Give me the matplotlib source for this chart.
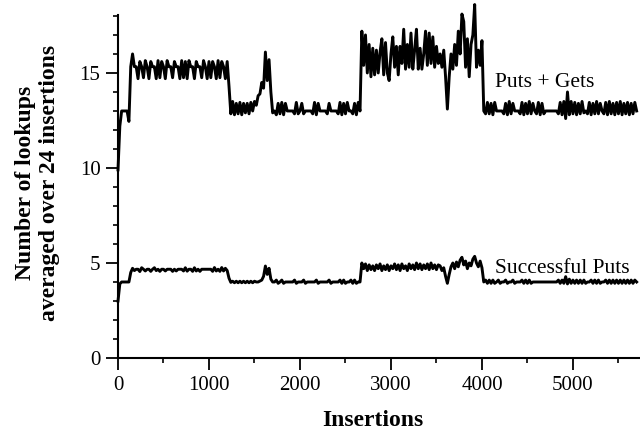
import numpy as np
import matplotlib
matplotlib.use('Agg')
import matplotlib.pyplot as plt
from matplotlib.ticker import MultipleLocator

plt.rcParams['font.family'] = ['Liberation Serif', 'DejaVu Serif']

STEP = 20  # insertions between samples

# ---- "Puts + Gets" series, segments starting at these insertion counts ----
pg_starts = [0, 1220, 2660, 4020]
pg_a = [9.9, 12.2, 13.0, 13.0, 13.0, 13.0, 12.45, 15.33, 16.0, 15.33,
        15.33, 14.7, 15.6, 15.33, 14.75, 15.65, 15.33, 14.7, 15.6, 15.33,
        15.33, 14.7, 15.65, 14.75, 15.6, 15.33, 14.7, 15.65, 15.33, 15.33,
        14.75, 15.6, 15.33, 15.33, 14.7, 15.65, 14.75, 15.6, 14.7, 15.65,
        15.33, 15.33, 14.7, 15.6, 15.33, 15.33, 14.75, 15.65, 15.33, 14.7,
        15.6, 14.75, 15.6, 15.33, 14.7, 15.65, 14.75, 15.6, 15.33, 14.7,
        15.6]
pg_b = [14.3, 12.85, 13.5, 12.8, 13.4, 12.85, 13.45, 12.8, 13.4, 12.9,
        13.4, 12.85, 13.45, 13.0, 13.5, 13.3, 13.8, 13.9, 14.5, 14.2,
        16.1, 14.6, 15.7, 14.0, 12.9, 13.0, 12.8, 13.4, 12.85, 13.45,
        12.8, 13.4, 13.0, 13.0, 13.0, 13.0, 12.85, 13.45, 12.85, 13.0,
        13.4, 12.85, 13.0, 13.0, 13.0, 13.0, 12.85, 13.45, 12.8, 13.4,
        13.0, 13.0, 13.0, 13.0, 12.85, 13.4, 13.0, 13.0, 13.0, 13.0,
        12.85, 13.45, 12.8, 13.4, 12.85, 13.45, 13.0, 13.0, 12.85, 13.4,
        12.8, 13.45]
pg_c = [13.0, 17.2, 15.4, 17.0, 15.0, 16.5, 14.8, 16.3, 14.9, 16.2,
        15.0, 16.1, 16.8, 14.9, 16.6, 15.0, 14.6, 16.0, 16.9, 15.3,
        16.4, 14.9, 16.4, 15.5, 17.3, 15.2, 16.5, 15.3, 17.1, 15.2,
        16.2, 17.3, 15.2, 16.3, 15.2, 16.0, 17.2, 15.4, 17.1, 15.5,
        16.9, 15.3, 16.4, 15.5, 16.0, 15.3, 16.2, 14.8, 13.1, 14.8,
        16.0, 15.2, 16.5, 15.4, 17.2, 16.0, 18.1, 17.7, 15.3, 16.8,
        14.8, 16.5, 17.0, 18.6, 15.3, 16.2, 15.4, 16.7]
pg_d = [13.0, 12.85, 13.45, 12.85, 13.4, 12.8, 13.45, 13.0, 13.0, 13.0,
        13.0, 12.85, 13.4, 12.8, 13.5, 12.85, 13.4, 13.0, 13.0, 13.0,
        12.85, 13.45, 12.8, 13.4, 12.85, 13.5, 12.85, 13.4, 13.0, 12.85,
        13.45, 12.8, 13.4, 12.85, 13.0, 13.0, 13.0, 13.0, 13.0, 13.0,
        13.0, 12.85, 13.45, 12.8, 13.5, 12.6, 14.0, 12.8, 13.5, 12.85,
        13.45, 12.8, 13.4, 12.85, 13.5, 12.9, 13.0, 12.85, 13.45, 12.8,
        13.4, 12.85, 13.5, 12.85, 13.4, 13.0, 12.85, 13.45, 12.8, 13.5,
        12.85, 13.4, 12.8, 13.45, 12.85, 13.5, 12.8, 13.4, 12.85, 13.45,
        12.8, 13.4, 12.85, 13.45, 13.0]

# ---- "Successful Puts" series ----
sp_starts = [0, 1220, 2660, 4020]
sp_a = [3.0, 3.9, 4.0, 4.0, 4.0, 4.0, 4.0, 4.5, 4.72, 4.6,
        4.67, 4.67, 4.55, 4.75, 4.67, 4.58, 4.67, 4.67, 4.56, 4.67,
        4.75, 4.6, 4.67, 4.56, 4.67, 4.67, 4.58, 4.67, 4.67, 4.67,
        4.56, 4.67, 4.58, 4.67, 4.67, 4.67, 4.58, 4.75, 4.57, 4.67,
        4.67, 4.56, 4.75, 4.58, 4.67, 4.56, 4.67, 4.67, 4.67, 4.67,
        4.67, 4.67, 4.56, 4.76, 4.58, 4.67, 4.56, 4.76, 4.58, 4.72,
        4.6]
sp_b = [4.2, 3.98, 4.04, 3.96, 4.04, 3.96, 4.04, 3.96, 4.04, 3.96,
        4.04, 3.96, 4.04, 3.96, 4.04, 4.0, 4.0, 4.05, 4.1, 4.3,
        4.84, 4.4, 4.72, 4.15, 4.0, 4.0, 4.1, 3.93, 4.0, 4.1,
        3.93, 4.0, 4.0, 4.0, 4.0, 4.0, 4.1, 3.93, 4.0, 4.0,
        4.0, 4.1, 3.93, 4.0, 4.0, 4.0, 4.0, 4.0, 4.1, 3.93,
        4.0, 4.0, 4.0, 4.0, 4.0, 4.1, 3.93, 4.0, 4.0, 4.0,
        4.0, 4.1, 3.93, 4.1, 3.93, 4.0, 4.0, 4.1, 3.93, 4.1,
        3.93, 4.0]
sp_c = [4.0, 5.0, 4.7, 4.95, 4.6, 4.9, 4.65, 4.85, 4.6, 4.9,
        4.7, 4.95, 4.6, 4.85, 4.65, 4.9, 4.6, 4.85, 4.7, 4.95,
        4.65, 4.9, 4.6, 4.95, 4.7, 4.85, 4.6, 4.95, 4.7, 4.9,
        4.65, 5.0, 4.7, 4.95, 4.65, 4.9, 4.7, 4.95, 4.65, 5.0,
        4.7, 4.9, 4.65, 4.9, 4.85, 4.6, 4.75, 4.3, 3.93, 4.4,
        4.8, 5.0, 4.7, 5.05, 4.8, 5.15, 5.3, 4.9, 5.1, 4.7,
        5.0, 4.85, 5.2, 5.35, 5.0, 4.8, 5.1, 4.75]
sp_d = [4.0, 4.1, 3.93, 4.1, 3.93, 4.1, 3.93, 4.0, 4.1, 3.93,
        4.0, 4.0, 4.1, 3.93, 4.0, 4.0, 4.1, 3.93, 4.0, 4.0,
        4.0, 4.1, 3.93, 4.1, 3.93, 4.1, 3.93, 4.0, 4.0, 4.0,
        4.0, 4.0, 4.0, 4.0, 4.0, 4.0, 4.0, 4.0, 4.0, 4.0,
        4.0, 4.1, 3.93, 4.1, 3.93, 4.28, 3.9, 4.15, 3.93, 4.1,
        3.93, 4.1, 3.93, 4.1, 3.93, 4.1, 3.93, 4.0, 4.0, 4.1,
        3.93, 4.1, 3.93, 4.1, 3.93, 4.0, 4.0, 4.1, 3.93, 4.1,
        3.93, 4.1, 3.93, 4.1, 3.93, 4.1, 3.93, 4.1, 3.93, 4.1,
        3.93, 4.1, 3.93, 4.1, 4.0]

series_labels = ['Puts + Gets', 'Successful Puts']
x_ticks = [0, 1000, 2000, 3000, 4000, 5000]
y_ticks = [0, 5, 10, 15]


def build(starts, segs):
    xs = np.concatenate([s + STEP * np.arange(len(v)) for s, v in zip(starts, segs)])
    ys = np.concatenate([np.asarray(v, float) for v in segs])
    return xs, ys


x_pg, y_pg = build(pg_starts, [pg_a, pg_b, pg_c, pg_d])
x_sp, y_sp = build(sp_starts, [sp_a, sp_b, sp_c, sp_d])

fig = plt.figure(figsize=(6.4, 4.32), dpi=100)
ax = fig.add_axes([118 / 640, 74 / 432, 522 / 640, 343 / 432])

ax.plot(x_pg, y_pg, color='black', lw=2.1, clip_on=False)
ax.plot(x_sp, y_sp, color='black', lw=2.1, clip_on=False)

ax.set_xlim(0, 5737)
ax.set_ylim(0, 18.05)

ax.spines['top'].set_visible(False)
ax.spines['right'].set_visible(False)
for s in ('left', 'bottom'):
    ax.spines[s].set_linewidth(1.5)

ax.set_xticks(x_ticks)
ax.set_yticks(y_ticks)
ax.xaxis.set_minor_locator(MultipleLocator(500))
ax.yaxis.set_minor_locator(MultipleLocator(1))
ax.tick_params(which='major', direction='out', length=8.6, width=1.3,
               labelsize=15, pad=4)
ax.tick_params(which='minor', direction='out', length=3.6, width=1.2)

ax.text(4143, 14.28, series_labels[0], fontsize=15.5, va='baseline', ha='left')
ax.text(4143, 4.46, series_labels[1], fontsize=15.5, va='baseline', ha='left')

fig.text(373 / 640, 1 - 426 / 432, 'Insertions', ha='center', va='baseline',
         fontsize=17, fontweight='bold')
fig.text(0.0584, 1 - 183 / 432, 'Number of lookups\naveraged over 24 insertions',
         rotation=90, ha='center', va='center', fontsize=17, fontweight='bold',
         linespacing=1.15, multialignment='center')

fig.savefig('out.png', dpi=100)
